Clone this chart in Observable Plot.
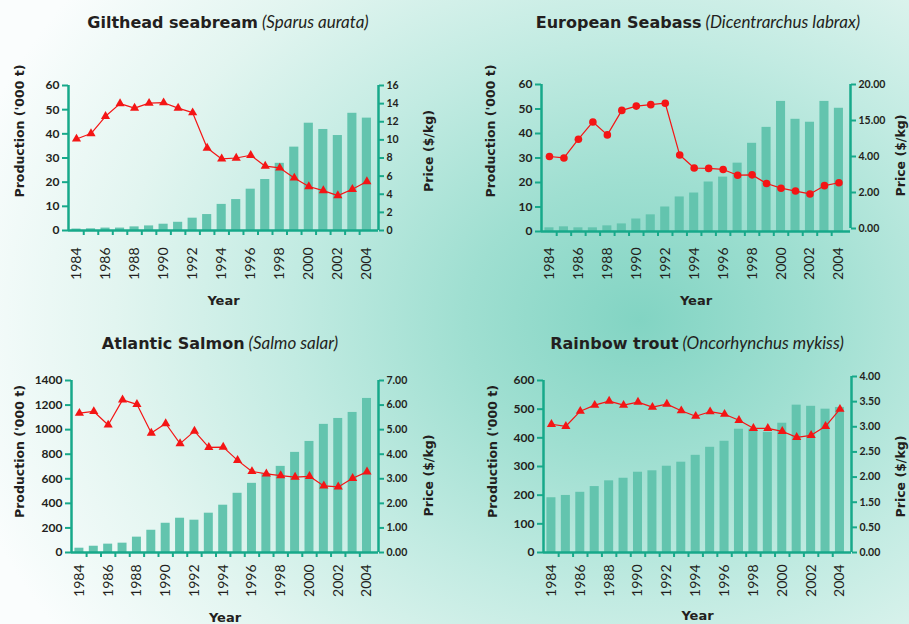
<!DOCTYPE html>
<html><head><meta charset="utf-8">
<script src="https://cdn.jsdelivr.net/npm/d3@7"></script>
<script src="https://cdn.jsdelivr.net/npm/@observablehq/plot@0.6"></script>
<style>
html,body{margin:0;padding:0;}
#page{position:relative;width:909px;height:624px;overflow:hidden;
 background: radial-gradient(ellipse 700px 560px at 640px 320px, #82d4c3 0%, #9fdfd1 25%, #c2ebe2 50%, #e2f5f0 75%, #fafdfd 100%);}
#page svg{position:absolute;left:0;top:0;}
.title{position:absolute;width:500px;text-align:center;color:#231f20;white-space:nowrap;line-height:20px;}
.title b{font-family:"DejaVu Sans";font-weight:bold;font-size:16px;}
.title i{font-family:Lato;font-style:italic;font-size:17px;font-weight:normal;}
</style></head><body><div id="page"></div>
<script>
const years = [1984,1985,1986,1987,1988,1989,1990,1991,1992,1993,1994,1995,1996,1997,1998,1999,2000,2001,2002,2003,2004];
const yearLabels = [1984,1986,1988,1990,1992,1994,1996,1998,2000,2002,2004];

const seabreamProd  = [0.6,0.7,1.0,1.0,1.5,1.9,2.6,3.4,5.1,6.6,10.8,12.8,17.1,21.1,27.8,34.5,44.4,41.8,39.3,48.5,46.5];
const seabreamPrice = [10.1,10.7,12.6,14.0,13.5,14.05,14.1,13.5,13.0,9.1,7.9,8.0,8.3,7.1,6.9,5.8,4.85,4.4,3.85,4.55,5.4];
const seabreamProdTicks = [0,10,20,30,40,50,60];
const seabreamPriceTicks = [0,2,4,6,8,10,12,14,16];
const seabreamPriceLabels = ["0","2","4","6","8","10","12","14","16"];

const seabassProd  = [1.5,1.9,1.5,1.5,2.3,3.1,5.1,6.8,10.0,14.1,15.7,20.2,22.2,27.9,36.0,42.5,53.1,45.8,44.6,53.1,50.3];
const seabassPrice = [10.0,9.8,12.4,14.8,13.0,16.4,17.0,17.2,17.4,10.2,8.4,8.35,8.2,7.4,7.45,6.25,5.6,5.2,4.8,5.95,6.35];
const seabassProdTicks = [0,10,20,30,40,50,60];
const seabassPriceTicks = [0,5,10,15,20];
const seabassPriceLabels = ["0.00","2.00","4.00","15.00","20.00"];

const salmonProd  = [35,51,68,76,125,181,238,279,263,320,385,482,563,640,701,815,904,1043,1091,1140,1254];
const salmonPrice = [5.67,5.74,5.19,6.21,6.03,4.86,5.25,4.43,4.94,4.28,4.29,3.75,3.30,3.20,3.13,3.07,3.10,2.71,2.67,3.02,3.28];
const salmonProdTicks = [0,200,400,600,800,1000,1200,1400];
const salmonPriceTicks = [0,1,2,3,4,5,6,7];
const salmonPriceLabels = ["0.00","1.00","2.00","3.00","4.00","5.00","6.00","7.00"];

const troutProd  = [191,199,210,230,250,259,280,285,301,315,339,367,388,430,430,419,451,514,510,500,506];
const troutPrice = [3.05,3.01,3.31,3.43,3.51,3.43,3.49,3.39,3.45,3.32,3.21,3.30,3.25,3.13,2.97,2.97,2.91,2.79,2.83,3.01,3.35];
const troutProdTicks = [0,100,200,300,400,500,600];
const troutPriceTicks = [0.5,1,1.5,2,2.5,3,3.5,4];
const troutPriceLabels = ["0.00","0.50","1.50","2.00","2.50","3.00","3.50","4.00"];

const titles = [
  ["Gilthead seabream", "(Sparus aurata)"],
  ["European Seabass", "(Dicentrarchus labrax)"],
  ["Atlantic Salmon", "(Salmo salar)"],
  ["Rainbow trout", "(Oncorhynchus mykiss)"]
];

const BAR = "#63c4ae", AXIS = "#17a98a", TEXT = "#231f20", RED = "#f41515";
const W = 909, H = 624;
const xDomain = [1983.45, 2004.8];

const panels = [
  {left:68, right:378, top:85, base:230, pTop:85, pBase:230, prod:seabreamProd, price:seabreamPrice, prodTicks:seabreamProdTicks, priceTicks:seabreamPriceTicks, priceLabels:seabreamPriceLabels, symbol:"triangle", r:3.4, xPad:17, yearY:300, prodDx:-49, prodDy:-27, priceDx:50, priceDy:-7, title:titles[0], tx:228, ty:28},
  {left:541, right:850, top:84, base:231, pTop:84, pBase:228, prod:seabassProd, price:seabassPrice, prodTicks:seabassProdTicks, priceTicks:seabassPriceTicks, priceLabels:seabassPriceLabels, symbol:"circle", r:3.8, xPad:16, yearY:300, prodDx:-51, prodDy:-27, priceDx:50, priceDy:-1, title:titles[1], tx:698, ty:28},
  {left:71, right:378, top:380, base:552, pTop:380, pBase:552, prod:salmonProd, price:salmonPrice, prodTicks:salmonProdTicks, priceTicks:salmonPriceTicks, priceLabels:salmonPriceLabels, symbol:"triangle", r:3.4, xPad:12, yearY:617, prodDx:-52, prodDy:-15, priceDx:50, priceDy:9, title:titles[2], tx:220, ty:349},
  {left:543, right:851, top:380, base:552, pTop:376, pBase:552, prod:troutProd, price:troutPrice, prodTicks:troutProdTicks, priceTicks:troutPriceTicks, priceLabels:troutPriceLabels, symbol:"triangle", r:3.4, xPad:12, yearY:615, prodDx:-51, prodDy:-15, priceDx:49, priceDy:12, title:titles[3], tx:697, ty:349}
];

const page = document.getElementById("page");
const boundaries = years.slice(0, -1).map(y => y + 0.5);

for (const cfg of panels) {
  const data = years.map((year, i) => ({year, prod: cfg.prod[i], price: cfg.price[i]}));
  const base = {
    width: W, height: H,
    marginLeft: cfg.left, marginRight: W - cfg.right,
    style: {background: "transparent", overflow: "visible"}
  };
  const bars = Plot.plot({
    ...base,
    marginTop: cfg.top, marginBottom: H - cfg.base,
    x: {type: "linear", domain: xDomain},
    y: {domain: [0, cfg.prodTicks[cfg.prodTicks.length - 1]]},
    marks: [
      Plot.rectY(data, {x1: d => d.year - 0.5, x2: d => d.year + 0.5, y: "prod", fill: BAR, insetLeft: 2.7, insetRight: 2.7}),
      Plot.axisY(cfg.prodTicks, {anchor: "left", tickSize: 6, tickPadding: 3, stroke: AXIS, strokeWidth: 2, fill: TEXT,
        tickFormat: d => String(d), fontSize: 12, fontWeight: "bold", fontFamily: "Lato", label: null}),
      Plot.axisX(boundaries, {anchor: "bottom", tickSize: 5, tickFormat: () => "", stroke: AXIS, strokeWidth: 2, label: null}),
      Plot.axisX(yearLabels, {anchor: "bottom", tickSize: 0, tickPadding: cfg.xPad, tickRotate: -90, tickFormat: d => String(d),
        fontSize: 14, fontFamily: "Lato", fill: TEXT, label: null}),
      Plot.ruleY([0], {stroke: AXIS, strokeWidth: 2.5}),
      Plot.ruleX([xDomain[0]], {stroke: AXIS, strokeWidth: 2.5}),
      Plot.text(["Production ('000 t)"], {text: d => d, frameAnchor: "left", textAnchor: "middle", lineAnchor: "middle",
        dx: cfg.prodDx, dy: cfg.prodDy, rotate: -90,
        fontFamily: "DejaVu Sans", fontWeight: "bold", fontSize: 12.5, fill: TEXT}),
      Plot.text(["Year"], {text: d => d, frameAnchor: "bottom", textAnchor: "middle", lineAnchor: "middle", dy: cfg.yearY - cfg.base,
        fontFamily: "DejaVu Sans", fontWeight: "bold", fontSize: 13, fill: TEXT})
    ]
  });
  page.appendChild(bars);

  const fmt = d => cfg.priceLabels[cfg.priceTicks.indexOf(d)];
  const line = Plot.plot({
    ...base,
    marginTop: cfg.pTop, marginBottom: H - cfg.pBase,
    x: {type: "linear", domain: xDomain, axis: null},
    y: {domain: [cfg.priceTicks[0], cfg.priceTicks[cfg.priceTicks.length - 1]]},
    marks: [
      Plot.line(data, {x: "year", y: "price", stroke: RED, strokeWidth: 1.2}),
      Plot.dot(data, {x: "year", y: "price", symbol: cfg.symbol, r: cfg.r, fill: RED, stroke: "none"}),
      Plot.axisY(cfg.priceTicks, {anchor: "right", tickSize: 5, tickPadding: 3, stroke: AXIS, strokeWidth: 2, fill: TEXT,
        tickFormat: fmt, fontSize: 10.5, fontWeight: "bold", fontFamily: "Lato", label: null}),
      Plot.ruleX([xDomain[1]], {stroke: AXIS, strokeWidth: 2.5}),
      Plot.text(["Price ($/kg)"], {text: d => d, frameAnchor: "right", textAnchor: "middle", lineAnchor: "middle",
        dx: cfg.priceDx, dy: cfg.priceDy, rotate: -90,
        fontFamily: "DejaVu Sans", fontWeight: "bold", fontSize: 12.5, fill: TEXT})
    ]
  });
  page.appendChild(line);

  const t = document.createElement("div");
  t.className = "title";
  t.style.left = (cfg.tx - 250) + "px";
  t.style.top = (cfg.ty - 16) + "px";
  const b = document.createElement("b"); b.textContent = cfg.title[0];
  const i = document.createElement("i"); i.textContent = " " + cfg.title[1];
  t.appendChild(b); t.appendChild(i);
  page.appendChild(t);
}
</script>
</body></html>
